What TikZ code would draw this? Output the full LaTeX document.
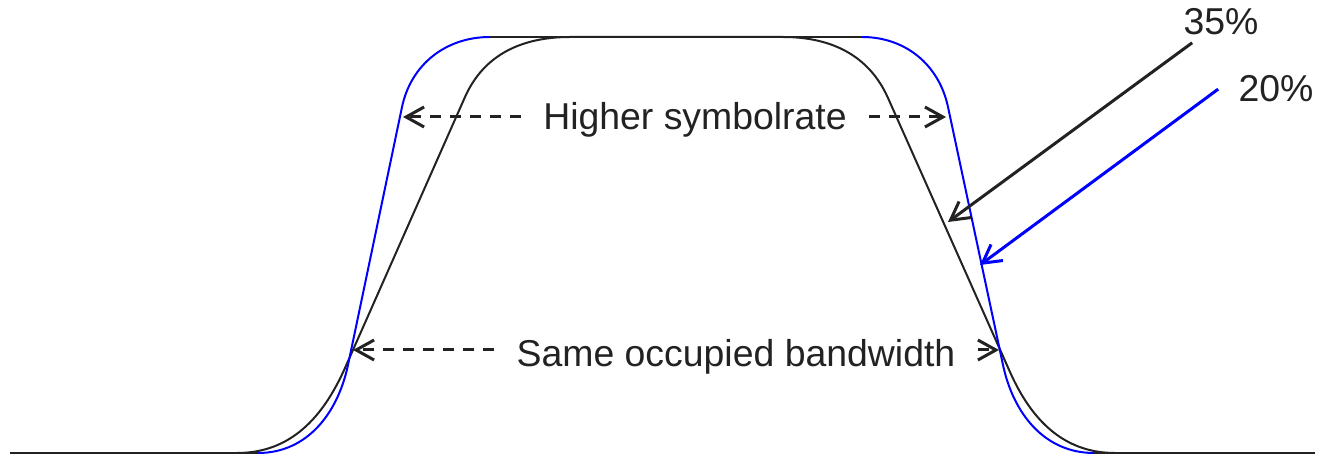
\documentclass[tikz,border=0pt]{standalone}
\usepackage{fontspec}
\setmainfont{Liberation Sans}
\usetikzlibrary{arrows.meta}
\definecolor{ink}{HTML}{222222}
\begin{document}
\begin{tikzpicture}[x=0.5pt,y=0.5pt,
		rolloff/.style={line width=1pt,draw=ink},
		rollblue/.style={line width=1pt,draw=blue},
		dimarrow/.style={line width=1.5pt,draw=ink,dash pattern=on 5.5pt off 4.5pt,-{Straight Barb[length=9pt,width=10pt]}},
		callout/.style={line width=1.5pt,-{Straight Barb[length=9pt,width=10pt]}},
		dimtext/.style={font=\fontsize{18.7}{22}\selectfont,text=ink,anchor=base,inner xsep=11pt},
		pcttext/.style={font=\fontsize{18.7}{22}\selectfont,text=ink,anchor=base,inner sep=0pt}]
	\useasboundingbox (0,0) rectangle (1322,455);
	% flat parts
	\draw[rolloff] (10,2) -- (258,2);
	\draw[rolloff] (1094,2) -- (1315,2);
	\draw[rolloff] (490,418) -- (862,418);
	% 35% roll-off
	\draw[rolloff] (237,2) to[out=0,in=246] (345,87) -- (465,358) to[out=66,in=180] (570,418)
		-- (783,418) to[out=0,in=114] (888,357) -- (1010,83) to[out=-66,in=180] (1115,2);
	% 20% roll-off
	\draw[rollblue] (258,2) to[out=0,in=258] (348,90) -- (402,348) to[out=78,in=180] (490,418);
	\draw[rollblue] (862,418) to[out=0,in=102] (948,348) -- (1003,90) to[out=-78,in=180] (1094,2);
	% labels
	\node[dimtext] (hs) at (695,325) {Higher symbolrate};
	\node[dimtext] (ob) at (736,88) {Same occupied bandwidth};
	\node[pcttext] (p35) at (1221,420) {35\%};
	\node[pcttext] (p20) at (1276,353) {20\%};
	\coordinate (hl) at (403,338);
	\coordinate (hr) at (946,338);
	\coordinate (ol) at (353,105);
	\coordinate (or) at (999,105);
	\coordinate (t35) at (948,233);
	\coordinate (t20) at (980,190);
	\draw[dimarrow] (hs.west |- hl) -- (hl);
	\draw[dimarrow] (hs.east |- hr) -- (hr);
	\draw[dimarrow] (ob.west |- ol) -- (ol);
	\draw[dimarrow] (ob.east |- or) -- (or);
	\draw[callout,ink] ([xshift=4.5pt,yshift=-3.5pt]p35.south west) -- (t35);
	\draw[callout,blue] ([xshift=-10pt]p20.west) -- (t20);
\end{tikzpicture}
\end{document}
